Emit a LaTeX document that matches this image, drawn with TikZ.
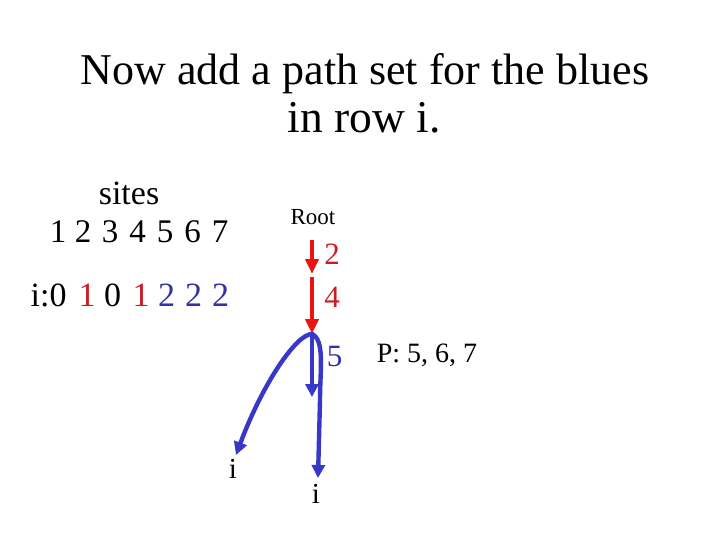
\documentclass[tikz,border=0pt]{standalone}
\usepackage{fontspec}
\setmainfont{Liberation Serif}
\usetikzlibrary{arrows.meta}
\definecolor{rarrow}{RGB}{235,20,20}
\definecolor{rtext}{RGB}{200,30,35}
\definecolor{barrow}{RGB}{55,55,200}
\definecolor{btext}{RGB}{50,50,165}
\tikzset{
  txt/.style={inner sep=0pt, anchor=base},
  fs/.style={font=\fontsize{#1}{#1}\selectfont},
  redarr/.style={draw=rarrow, line width=4.6pt, -{Triangle[length=15pt,width=13pt]}},
  bluearr/.style={draw=barrow, line width=4.4pt, -{Triangle[length=13pt,width=13pt]}, line cap=round}
}
\begin{document}
\begin{tikzpicture}[x=1pt,y=-1pt]
\useasboundingbox (0,0) rectangle (720,540);
% title
\node[txt,fs=44] (t1) at (365,85) {Now add a path set for the blues};
\node[txt,fs=45.5] (t2) at (364,133) {in row i.};
% sites
\node[txt,fs=34] (sites) at (129,205) {sites};
\foreach \d/\x in {1/58,2/83,3/110,4/137.5,5/165,6/192.5,7/220}
  \node[txt,fs=33] (s\d) at (\x,242) {\d};
\node[txt,fs=34,anchor=base west] (ilab) at (30.5,306) {i:0};
\node[txt,fs=34,text=rtext] (v2) at (87,306) {1};
\node[txt,fs=34] (v3) at (112.5,306) {0};
\node[txt,fs=34,text=rtext] (v4) at (141,306) {1};
\node[txt,fs=34,text=btext] (v5) at (166.5,306) {2};
\node[txt,fs=34,text=btext] (v6) at (193.5,306) {2};
\node[txt,fs=34,text=btext] (v7) at (220.5,306) {2};
% root
\node[txt,fs=23] (root) at (313,225) {Root};
\coordinate (r0) at (312,240);
\coordinate (r1) at (312,274);
\coordinate (r2) at (312,277);
\coordinate (c) at (312,334);
\draw[redarr] (r0) -- (r1);
\draw[redarr] (r2) -- (c);
\node[txt,fs=31,text=rtext] (l2) at (332,264) {2};
\node[txt,fs=31,text=rtext] (l4) at (332,307) {4};
\node[txt,fs=31,text=btext] (l5) at (334.5,366) {5};
% blue arrows
\coordinate (b1) at (312,397);
\coordinate (bl) at (236,455);
\coordinate (bm) at (320,400);
\coordinate (br) at (318,478);
\draw[bluearr] (c) -- (b1);
\draw[bluearr] (c) .. controls (296,334) and (262,385) .. (bl);
\draw[bluearr] (c) .. controls (325,340) and (320,370) .. (bm) -- (br);
\node[txt,fs=29] (il) at (233,478) {i};
\node[txt,fs=29] (ib) at (316,503) {i};
\node[txt,fs=28] (p) at (427,362) {P: 5, 6, 7};
\end{tikzpicture}
\end{document}
